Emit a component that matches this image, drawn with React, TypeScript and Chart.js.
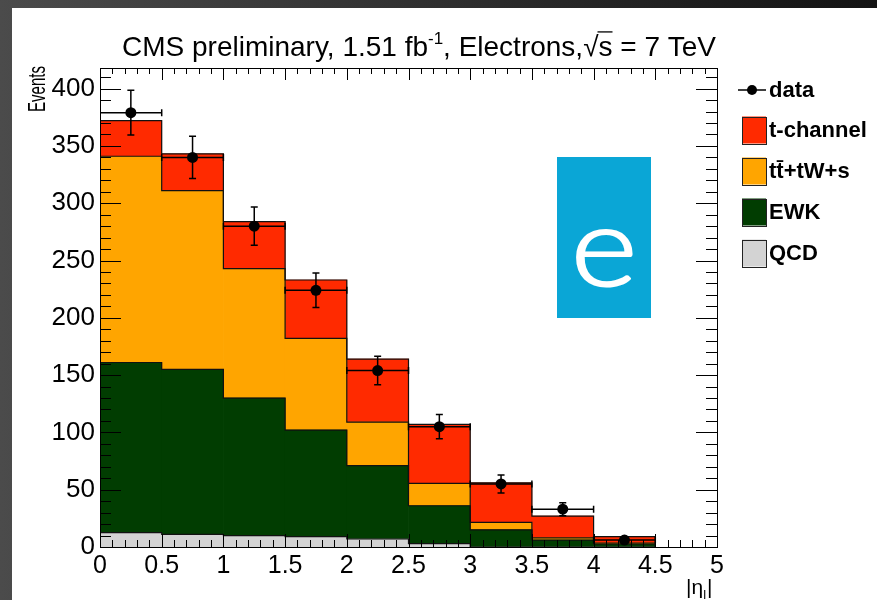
import React, { useEffect, useRef } from 'react';
import { Chart, registerables } from 'chart.js';

Chart.register(...registerables);

// ---- data ----
const binCenters = [0.25, 0.75, 1.25, 1.75, 2.25, 2.75, 3.25, 3.75, 4.25];
const binHalfWidth = 0.25;
const qcd = [12.5, 11, 10, 9, 7, 3, 0, 0, 0];
const ewk = [148.5, 144, 120, 93, 64, 33, 15, 6, 2.6];
const ttbar = [180, 156, 113, 80, 38, 19.5, 6.5, 2, 0.9];
const tchannel = [31, 32, 41, 51, 55, 51.5, 34.5, 19, 5.5];
const dataValues = [379, 340, 280, 224, 154, 105, 55, 33, 6];
const dataErrors = [19.5, 18.4, 16.7, 15, 12.4, 10.6, 7.8, 5.7, 2.4];

const xTicks = [0, 0.5, 1, 1.5, 2, 2.5, 3, 3.5, 4, 4.5, 5];
const yTicks = [0, 50, 100, 150, 200, 250, 300, 350, 400];
const xMinorStep = 0.1;
const yMinorStep = 10;
const xMin = 0;
const xMax = 5;
const yMin = 0;
const yMax = 418;

const legendLabels = ['data', 't-channel', 'tt\u0304+tW+s', 'EWK', 'QCD'];
const yTitle = 'Events';
const badgeText = 'e';

const COLORS = {
  tch: '#ff2a00',
  tt: '#ffa500',
  ewk: '#013d01',
  qcd: '#d3d3d3',
  badge: '#0aa6d6',
};

const FONT = "'Liberation Sans', Arial, Helvetica, sans-serif";

// stack order: bottom -> top
const stacks = [
  { label: 'QCD', values: qcd, color: COLORS.qcd },
  { label: 'EWK', values: ewk, color: COLORS.ewk },
  { label: 'tt\u0304+tW+s', values: ttbar, color: COLORS.tt },
  { label: 't-channel', values: tchannel, color: COLORS.tch },
];

const DATA_INDEX = stacks.length;

const rootPlugin = {
  id: 'rootStyle',
  beforeDraw(chart: any) {
    const { ctx, width, height } = chart;
    ctx.save();
    const g = ctx.createLinearGradient(0, 0, width, 0);
    g.addColorStop(0, '#4b4b4b');
    g.addColorStop(1, '#131313');
    ctx.fillStyle = g;
    ctx.fillRect(0, 0, width, height);
    ctx.fillStyle = '#ffffff';
    ctx.fillRect(12, 8, width - 12, height - 8);
    ctx.restore();
  },
  beforeDatasetDraw(chart: any, args: any) {
    if (args.index !== DATA_INDEX) return;
    const { ctx } = chart;
    const xs = chart.scales.x;
    const ys = chart.scales.y;
    const px = (v: number) => xs.getPixelForValue(v);
    const py = (v: number) => ys.getPixelForValue(v);
    // stacked outlines (step lines)
    const levels: number[][] = [];
    let cum = binCenters.map(() => 0);
    for (const s of stacks) {
      cum = cum.map((c, i) => c + s.values[i]);
      levels.push(cum.slice());
    }
    ctx.save();
    ctx.beginPath();
    ctx.rect(chart.chartArea.left, chart.chartArea.top, chart.chartArea.right - chart.chartArea.left, chart.chartArea.bottom - chart.chartArea.top);
    ctx.clip();
    ctx.strokeStyle = '#111';
    ctx.lineWidth = 1.2;
    for (let l = levels.length - 1; l >= 0; l--) {
      const lv = levels[l];
      ctx.beginPath();
      const y0 = py(0);
      ctx.moveTo(px(binCenters[0] - binHalfWidth), y0);
      binCenters.forEach((c, i) => {
        const yt = py(lv[i]);
        ctx.lineTo(px(c - binHalfWidth), yt);
        ctx.lineTo(px(c + binHalfWidth), yt);
      });
      ctx.lineTo(px(binCenters[binCenters.length - 1] + binHalfWidth), y0);
      ctx.stroke();
    }
    // data error bars
    ctx.strokeStyle = '#000';
    ctx.lineWidth = 1.5;
    const cap = 3.5;
    binCenters.forEach((c, i) => {
      const v = dataValues[i];
      const e = dataErrors[i];
      const cx = px(c);
      const cy = py(v);
      const yTop = py(v + e);
      const yBot = py(v - e);
      const xl = px(c - binHalfWidth);
      const xr = px(c + binHalfWidth);
      ctx.beginPath();
      ctx.moveTo(cx, yTop);
      ctx.lineTo(cx, yBot);
      ctx.moveTo(cx - cap, yTop);
      ctx.lineTo(cx + cap, yTop);
      ctx.moveTo(cx - cap, yBot);
      ctx.lineTo(cx + cap, yBot);
      ctx.moveTo(xl, cy);
      ctx.lineTo(xr, cy);
      ctx.moveTo(xl, cy - cap);
      ctx.lineTo(xl, cy + cap);
      ctx.moveTo(xr, cy - cap);
      ctx.lineTo(xr, cy + cap);
      ctx.stroke();
    });
    ctx.restore();
  },
  afterDatasetsDraw(chart: any) {
    const { ctx, chartArea } = chart;
    const xs = chart.scales.x;
    const ys = chart.scales.y;
    const { left, right, top, bottom } = chartArea;
    ctx.save();
    ctx.strokeStyle = '#000';
    ctx.lineWidth = 1;
    ctx.beginPath();
    // x ticks (bottom & top)
    const nx = Math.round((xMax - xMin) / xMinorStep);
    for (let k = 0; k <= nx; k++) {
      const v = xMin + k * xMinorStep;
      const major = xTicks.some((t) => Math.abs(t - v) < 1e-6);
      const x = Math.round(xs.getPixelForValue(v)) + 0.5;
      ctx.moveTo(x, bottom);
      ctx.lineTo(x, bottom - (major ? 13 : 7));
      ctx.moveTo(x, top);
      ctx.lineTo(x, top + (major ? 12 : 6));
    }
    // y ticks (left & right)
    const ny = Math.floor((yMax - yMin) / yMinorStep);
    for (let k = 0; k <= ny; k++) {
      const v = yMin + k * yMinorStep;
      const major = yTicks.some((t) => Math.abs(t - v) < 1e-6);
      const y = Math.round(ys.getPixelForValue(v)) + 0.5;
      ctx.moveTo(left, y);
      ctx.lineTo(left + (major ? 21 : 11), y);
      ctx.moveTo(right, y);
      ctx.lineTo(right - (major ? 21 : 11), y);
    }
    ctx.stroke();
    ctx.strokeRect(Math.round(left) + 0.5, Math.round(top) + 0.5, Math.round(right - left), Math.round(bottom - top));
    ctx.restore();
  },
  afterDraw(chart: any) {
    const { ctx, chartArea } = chart;
    ctx.save();
    // ---- title ----
    const fs = 28;
    const base = `${fs}px ${FONT}`;
    const sup = `${Math.round(fs * 0.62)}px ${FONT}`;
    const parts = [
      { t: 'CMS preliminary, 1.51 fb', f: base, dy: 0, over: false },
      { t: '-1', f: sup, dy: -fs * 0.42, over: false },
      { t: ', Electrons,', f: base, dy: 0, over: false },
      { t: '\u221A', f: base, dy: 0, over: false },
      { t: 's', f: base, dy: 0, over: true },
      { t: ' = 7 TeV', f: base, dy: 0, over: false },
    ];
    let total = 0;
    const widths = parts.map((p) => {
      ctx.font = p.f;
      const w = ctx.measureText(p.t).width;
      total += w;
      return w;
    });
    const targetW = 594;
    const sx = targetW / total;
    ctx.translate(122, 56);
    ctx.scale(sx, 1);
    ctx.fillStyle = '#000';
    ctx.textBaseline = 'alphabetic';
    ctx.textAlign = 'left';
    let cx = 0;
    parts.forEach((p, i) => {
      ctx.font = p.f;
      ctx.fillText(p.t, cx, p.dy);
      if (p.over) {
        ctx.beginPath();
        ctx.lineWidth = 1.3;
        ctx.strokeStyle = '#000';
        ctx.moveTo(cx - 1, -fs * 0.86);
        ctx.lineTo(cx + widths[i], -fs * 0.86);
        ctx.stroke();
      }
      cx += widths[i];
    });
    ctx.setTransform(1, 0, 0, 1, 0, 0);

    // ---- y title ----
    ctx.save();
    ctx.translate(45, chartArea.top - 2);
    ctx.rotate(-Math.PI / 2);
    ctx.font = `23px ${FONT}`;
    ctx.textAlign = 'right';
    ctx.textBaseline = 'alphabetic';
    ctx.fillStyle = '#000';
    ctx.fillText(yTitle, 0, 0, 46);
    ctx.restore();

    // ---- x title |eta_l| ----
    ctx.fillStyle = '#000';
    ctx.textBaseline = 'alphabetic';
    ctx.textAlign = 'left';
    const xt0 = 686;
    const xtBase = 594;
    ctx.font = `21px ${FONT}`;
    ctx.fillText('|\u03B7', xt0, xtBase);
    const w1 = ctx.measureText('|\u03B7').width;
    ctx.font = `13px ${FONT}`;
    ctx.fillText('l', xt0 + w1, xtBase + 5);
    const w2 = ctx.measureText('l').width;
    ctx.font = `21px ${FONT}`;
    ctx.fillText('|', xt0 + w1 + w2 + 1, xtBase);

    // ---- legend ----
    const legendRows = [90, 130, 171, 212, 253];
    const swX = 742;
    const swW = 24;
    const swH = 27;
    const txX = 769;
    ctx.font = `bold 22px ${FONT}`;
    ctx.textBaseline = 'middle';
    legendLabels.forEach((lab, i) => {
      const y = legendRows[i];
      if (i === 0) {
        ctx.strokeStyle = '#000';
        ctx.lineWidth = 1.5;
        ctx.beginPath();
        ctx.moveTo(738, y);
        ctx.lineTo(766, y);
        ctx.stroke();
        ctx.beginPath();
        ctx.arc(752, y, 5, 0, Math.PI * 2);
        ctx.fillStyle = '#000';
        ctx.fill();
      } else {
        const s = stacks.find((st) => st.label === lab)!;
        ctx.fillStyle = s.color;
        ctx.fillRect(swX, y - swH / 2, swW, swH);
        ctx.strokeStyle = '#222';
        ctx.lineWidth = 1;
        ctx.strokeRect(swX + 0.5, Math.round(y - swH / 2) + 0.5, swW, swH);
      }
      ctx.fillStyle = '#000';
      ctx.fillText(lab, txX, y + 1);
    });

    // ---- badge ----
    ctx.fillStyle = COLORS.badge;
    ctx.fillRect(557, 157, 94, 161);
    ctx.fillStyle = '#ffffff';
    ctx.strokeStyle = '#ffffff';
    ctx.lineWidth = 2.2;
    ctx.lineJoin = 'round';
    ctx.textAlign = 'center';
    ctx.textBaseline = 'alphabetic';
    ctx.translate(604, 286);
    ctx.scale(1.16, 1);
    ctx.font = `300 110px Lato, ${FONT}`;
    ctx.fillText(badgeText, 0, 0);
    ctx.strokeText(badgeText, 0, 0);
    ctx.restore();
  },
};

export default function App() {
  const ref = useRef<HTMLCanvasElement | null>(null);
  useEffect(() => {
    const canvas = ref.current;
    if (!canvas) return;
    const datasets: any[] = stacks.map((s) => ({
      type: 'bar',
      label: s.label,
      data: binCenters.map((x, i) => ({ x, y: s.values[i] })),
      backgroundColor: s.color,
      borderWidth: 0,
      categoryPercentage: 1,
      barPercentage: 1,
      order: 2,
    }));
    datasets.push({
      type: 'line',
      label: 'data',
      data: binCenters.map((x, i) => ({ x, y: dataValues[i] })),
      showLine: false,
      pointRadius: 5.5,
      pointBorderWidth: 0,
      pointBackgroundColor: '#000',
      borderColor: '#000',
      stack: 'data',
      order: 0,
    });
    const chart = new Chart(canvas, {
      type: 'bar',
      data: { datasets },
      options: {
        animation: false,
        responsive: false,
        devicePixelRatio: 1,
        layout: { padding: { left: 0, top: 68, right: 160, bottom: 0 } },
        plugins: { legend: { display: false }, title: { display: false }, tooltip: { enabled: false } },
        scales: {
          x: {
            type: 'linear',
            min: xMin,
            max: xMax,
            stacked: true,
            offset: false,
            grid: { display: false, drawTicks: false },
            border: { display: false },
            afterBuildTicks: (s: any) => {
              s.ticks = xTicks.map((v) => ({ value: v }));
            },
            afterFit: (s: any) => {
              s.height = 53;
            },
            ticks: {
              autoSkip: false,
              maxRotation: 0,
              padding: 4,
              color: '#000',
              font: { family: FONT, size: 25 },
              callback: (v: any) => String(v),
            },
          },
          y: {
            type: 'linear',
            min: yMin,
            max: yMax,
            stacked: true,
            grid: { display: false, drawTicks: false },
            border: { display: false },
            afterBuildTicks: (s: any) => {
              s.ticks = yTicks.map((v) => ({ value: v }));
            },
            afterFit: (s: any) => {
              s.width = 100;
            },
            ticks: {
              padding: 5,
              color: '#000',
              font: { family: FONT, size: 26 },
              callback: (v: any) => String(v),
            },
          },
        },
      } as any,
      plugins: [rootPlugin],
    });
    return () => chart.destroy();
  }, []);
  return (
    <div style={{ position: 'fixed', left: 0, top: 0, width: 877, height: 600 }}>
      <canvas ref={ref} width={877} height={600} style={{ display: 'block', width: 877, height: 600 }} />
    </div>
  );
}
